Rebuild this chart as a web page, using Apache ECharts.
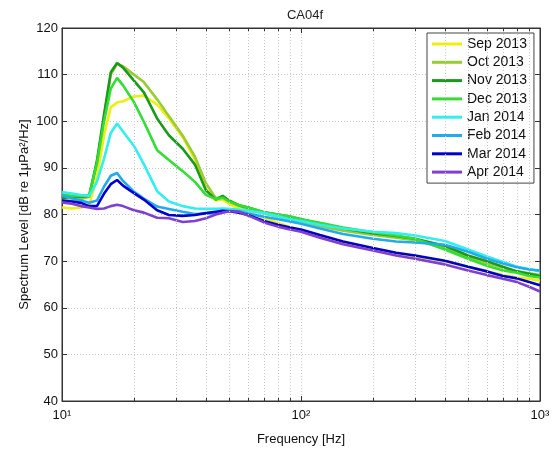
<!DOCTYPE html>
<html>
<head>
<meta charset="utf-8">
<script src="https://cdn.jsdelivr.net/npm/echarts@6/dist/echarts.min.js"></script>
<style>
  html, body { margin: 0; padding: 0; background: #fff; }
  #chart { width: 553px; height: 451px; }
</style>
</head>
<body>
<div id="chart"></div>
<script>
// frequencies (Hz) where values were read
var freqs = [10, 11, 12, 13, 14, 15, 16, 17, 18, 20, 22, 25, 28, 32, 36, 40, 44, 47, 50, 55, 60, 70, 80, 90, 100, 120, 150, 200, 250, 300, 400, 500, 600, 700, 800, 900, 1000];

var sep2013 = [81.5, 81.3, 81.5, 82.0, 88.0, 97.0, 103.0, 104.0, 104.3, 105.3, 105.5, 103.6, 100.6, 96.6, 91.8, 85.5, 83.0, 83.2, 82.3, 81.2, 80.5, 79.3, 78.2, 77.3, 76.5, 75.2, 73.8, 72.6, 71.6, 71.0, 70.0, 68.8, 67.8, 67.0, 66.5, 66.2, 65.8];
var oct2013 = [83.0, 83.0, 83.3, 83.8, 91.0, 101.0, 110.0, 112.3, 111.8, 110.0, 108.4, 104.7, 101.1, 96.9, 92.4, 86.7, 83.5, 83.8, 82.8, 81.8, 81.2, 80.2, 79.5, 79.0, 78.5, 77.5, 76.5, 75.6, 75.0, 74.5, 72.8, 71.0, 69.6, 68.6, 67.8, 67.4, 67.0];
var nov2013 = [83.5, 83.8, 83.8, 84.0, 91.5, 101.5, 110.5, 112.5, 111.5, 108.7, 106.2, 100.6, 97.0, 94.1, 90.7, 85.2, 83.2, 84.0, 83.0, 82.0, 81.5, 80.5, 80.0, 79.5, 79.0, 78.0, 77.0, 76.0, 75.4, 74.8, 73.3, 71.2, 70.0, 68.8, 67.8, 67.3, 66.8];
var dec2013 = [84.3, 84.0, 84.0, 84.2, 91.0, 100.0, 107.0, 109.3, 107.7, 104.1, 99.9, 93.8, 91.7, 89.3, 87.0, 84.2, 83.3, 83.6, 82.8, 82.0, 81.5, 80.5, 80.0, 79.6, 79.0, 78.2, 77.2, 76.2, 75.5, 74.8, 72.5, 70.5, 69.0, 68.0, 67.5, 66.8, 66.5];
var jan2014 = [84.8, 84.5, 84.2, 84.0, 87.0, 92.0, 97.5, 99.5, 97.8, 94.7, 90.8, 85.0, 82.8, 81.8, 81.3, 81.2, 81.2, 81.3, 81.2, 81.0, 80.8, 80.3, 79.6, 79.0, 78.6, 77.8, 77.0, 76.3, 76.0, 75.5, 74.3, 72.5, 71.0, 69.8, 68.8, 68.3, 67.8];
var feb2014 = [84.0, 83.5, 83.0, 82.5, 83.0, 86.0, 88.3, 88.9, 87.2, 84.9, 83.4, 81.7, 81.2, 80.6, 80.1, 80.2, 80.3, 80.6, 80.8, 80.7, 80.2, 79.5, 79.0, 78.5, 78.0, 77.0, 75.8, 74.8, 74.2, 74.0, 73.5, 72.0, 70.5, 69.5, 68.7, 68.2, 68.0];
var mar2014 = [83.0, 82.8, 82.5, 81.8, 81.8, 84.5, 86.5, 87.4, 86.2, 84.6, 83.2, 80.9, 79.9, 79.7, 79.9, 80.3, 80.6, 80.8, 80.7, 80.4, 79.9, 78.6, 77.8, 77.2, 76.8, 75.6, 74.2, 72.8, 71.8, 71.2, 70.1, 68.8, 67.8, 66.8, 66.3, 65.5, 64.8];
var apr2014 = [82.6, 82.3, 81.8, 81.5, 81.2, 81.3, 81.8, 82.1, 81.8, 80.9, 80.4, 79.3, 79.2, 78.4, 78.6, 79.2, 80.0, 80.4, 80.7, 80.6, 79.8, 78.3, 77.4, 76.8, 76.3, 75.0, 73.6, 72.3, 71.2, 70.5, 69.3, 68.0, 67.0, 66.2, 65.5, 64.5, 63.5];

var seriesNames = ['Sep 2013', 'Oct 2013', 'Nov 2013', 'Dec 2013', 'Jan 2014', 'Feb 2014', 'Mar 2014', 'Apr 2014'];
var seriesValues = [sep2013, oct2013, nov2013, dec2013, jan2014, feb2014, mar2014, apr2014];
var seriesColors = ['#eeee11', '#99cc33', '#1a991a', '#33dd33', '#33eeee', '#22aaee', '#0000cc', '#7f3fcf'];

// minor log gridlines / ticks
var minorFreqs = [20, 30, 40, 50, 60, 70, 80, 90, 200, 300, 400, 500, 600, 700, 800, 900];
var supers = { 1: '10\u00b9', 2: '10\u00b2', 3: '10\u00b3' };
var yMin = 40, yMax = 120;

var font = 'Liberation Sans, Arial, sans-serif';
var chart = echarts.init(document.getElementById('chart'));

var series = [];
// dummy series to hold the dotted minor grid lines under the data
series.push({
  name: 'grid',
  type: 'line',
  data: [],
  z: 1,
  silent: true,
  markLine: {
    silent: true,
    symbol: 'none',
    label: { show: false },
    lineStyle: { color: '#c8c8c8', type: [1, 2], width: 1 },
    data: minorFreqs.map(function (f) { return { xAxis: f }; })
  }
});
// minor inside ticks, bottom and top
var minorTicks = [];
minorFreqs.forEach(function (f) {
  minorTicks.push([{ coord: [f, yMin] }, { coord: [f, yMin + 0.65] }]);
  minorTicks.push([{ coord: [f, yMax] }, { coord: [f, yMax - 0.65] }]);
});
series.push({
  name: 'ticks',
  type: 'line',
  data: [],
  z: 4,
  silent: true,
  markLine: {
    silent: true,
    symbol: 'none',
    label: { show: false },
    lineStyle: { color: '#333', type: 'solid', width: 1 },
    data: minorTicks
  }
});
seriesNames.forEach(function (name, i) {
  series.push({
    name: name,
    type: 'line',
    showSymbol: false,
    symbol: 'none',
    z: 3,
    color: seriesColors[i],
    lineStyle: { width: 2.6, color: seriesColors[i] },
    data: freqs.map(function (f, k) { return [f, seriesValues[i][k]]; })
  });
});

var option = {
  animation: false,
  backgroundColor: '#fff',
  title: {
    text: 'CA04f',
    left: 300,
    textAlign: 'center',
    top: 4,
    textStyle: { fontFamily: font, fontSize: 13, fontWeight: 'normal', color: '#222' }
  },
  legend: {
    data: seriesNames,
    orient: 'vertical',
    left: 427,
    top: 33,
    icon: 'rect',
    itemWidth: 30,
    itemHeight: 3,
    itemGap: 4.3,
    padding: [4, 7, 4, 5],
    borderColor: '#444',
    borderWidth: 1,
    backgroundColor: '#fff',
    textStyle: { fontFamily: font, fontSize: 14, color: '#111', lineHeight: 14 }
  },
  grid: { left: 62, right: 13, top: 28, bottom: 49, show: true, borderColor: '#333', borderWidth: 1 },
  xAxis: [{
    type: 'log',
    logBase: 10,
    min: 10,
    max: 1000,
    name: 'Frequency [Hz]',
    nameLocation: 'middle',
    nameGap: 32,
    nameTextStyle: { fontFamily: font, fontSize: 13, color: '#111' },
    axisLine: { lineStyle: { color: '#333' } },
    axisTick: { inside: true, length: 5, lineStyle: { color: '#333' } },
    axisLabel: {
      fontFamily: font, fontSize: 13, color: '#111', margin: 8,
      formatter: function (v) { return supers[Math.round(Math.log10(v))] || ''; }
    },
    splitLine: { show: true, lineStyle: { color: '#c8c8c8', type: [1, 2] } }
  }, {
    type: 'log',
    logBase: 10,
    min: 10,
    max: 1000,
    position: 'top',
    axisLine: { lineStyle: { color: '#333' } },
    axisTick: { inside: true, length: 5, lineStyle: { color: '#333' } },
    axisLabel: { show: false },
    splitLine: { show: false }
  }],
  yAxis: [{
    type: 'value',
    min: yMin,
    max: yMax,
    interval: 10,
    name: 'Spectrum Level [dB re 1\u03bcPa\u00b2/Hz]',
    nameLocation: 'middle',
    nameGap: 31,
    nameMoveOverlap: false,
    nameTextStyle: { fontFamily: font, fontSize: 13, color: '#111' },
    axisLine: { show: true, lineStyle: { color: '#333' } },
    axisTick: { show: true, inside: true, length: 5, lineStyle: { color: '#333' } },
    axisLabel: { fontFamily: font, fontSize: 13, color: '#111', margin: 4 },
    splitLine: { show: true, lineStyle: { color: '#c8c8c8', type: [1, 2] } }
  }, {
    type: 'value',
    min: yMin,
    max: yMax,
    interval: 10,
    position: 'right',
    axisLine: { show: true, lineStyle: { color: '#333' } },
    axisTick: { show: true, inside: true, length: 5, lineStyle: { color: '#333' } },
    axisLabel: { show: false },
    splitLine: { show: false }
  }],
  series: series
};

chart.setOption(option);
</script>
</body>
</html>
